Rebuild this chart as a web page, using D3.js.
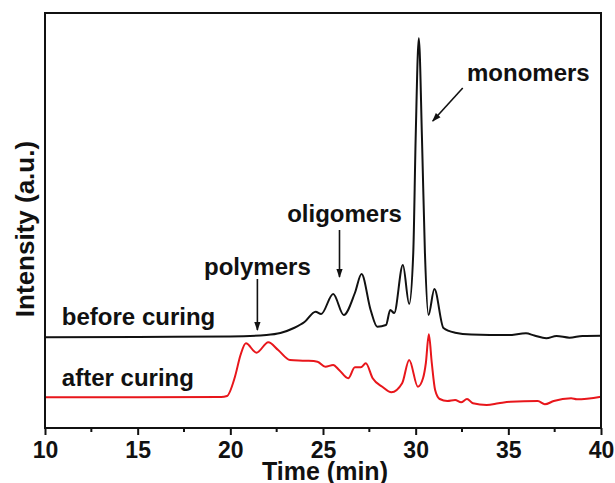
<!DOCTYPE html>
<html>
<head>
<meta charset="utf-8">
<script src="https://cdn.jsdelivr.net/npm/d3@7"></script>
<style>
  body { margin: 0; background: #fff; }
  text { font-family: "Liberation Sans", Arial, sans-serif; font-weight: bold; fill: #111; }
</style>
</head>
<body>
<script>
// GPC traces (time in min, intensity in a.u.)
var beforeTime = [10, 15, 20, 21.95, 22.7, 23.43, 24.0, 24.6, 24.9, 25.55, 26.12, 26.72, 27.08, 27.57, 27.93, 28.4, 28.63, 28.84, 29.31, 29.65, 29.87, 30.0, 30.17, 30.34, 30.5, 30.69, 31.01, 31.5, 32.13, 33, 35, 35.95, 36.4, 37.05, 37.6, 38.3, 39, 40];
var beforeVal  = [90.7, 91, 91.5, 93, 95, 100, 106, 116.3, 114, 134, 113, 135, 154, 118, 101.3, 103, 118, 115, 163, 124, 175, 290, 389.7, 290, 175, 113, 139, 100, 95.3, 93.5, 93, 94.7, 92.5, 89.7, 92, 90.3, 92, 92.3];

var afterTime = [10, 15, 19.5, 19.82, 20.25, 20.55, 20.84, 21.41, 22.05, 22.58, 23.22, 24.07, 24.7, 25.13, 25.55, 25.87, 26.36, 26.72, 27.04, 27.31, 27.68, 28.2, 28.69, 29.27, 29.65, 30.12, 30.4, 30.55, 30.71, 30.87, 31.05, 31.3, 31.71, 32.13, 32.45, 32.77, 33.09, 33.83, 34.47, 35.1, 36.59, 36.97, 37.45, 38.39, 38.7, 40];
var afterVal  = [30.7, 30.7, 31, 32, 51.3, 73, 84.7, 75.3, 85.7, 78, 68, 67.3, 66.3, 61.3, 63, 58, 49.7, 60.7, 60.7, 64.7, 49.7, 41.3, 35.7, 44.7, 68, 41.3, 50, 65, 93.7, 65, 38, 29, 27, 28, 25.7, 29, 24.7, 23, 24.7, 26.3, 27, 23.7, 27, 29.7, 28.7, 31.3];

var xTicks = [10, 15, 20, 25, 30, 35, 40];
var xMinor = [12.5, 17.5, 22.5, 27.5, 32.5, 37.5];

// annotation labels: [text, time, intensity, anchor]
var labels = [
  ["before curing", 10.91, 103, "start"],
  ["after curing", 10.91, 42.3, "start"],
  ["polymers", 21.46, 153, "middle"],
  ["oligomers", 26.16, 206.3, "middle"],
  ["monomers", 36.08, 347, "middle"]
];
// arrows: [t1, v1, t2, v2]
var arrows = [
  [21.46, 149, 21.46, 98],
  [25.89, 198, 25.89, 151],
  [32.54, 340, 30.92, 307]
];

var W = 615, H = 483;
var margin = {top: 13, right: 14, bottom: 55, left: 45};

var svg = d3.select("body").append("svg")
  .attr("width", W)
  .attr("height", H);

var x = d3.scaleLinear().domain([10, 40]).range([margin.left, W - margin.right]);
var y = d3.scaleLinear().domain([0, 415]).range([H - margin.bottom, margin.top]);

var defs = svg.append("defs");
defs.append("marker")
  .attr("id", "arr")
  .attr("viewBox", "0 0 10 10")
  .attr("refX", 9).attr("refY", 5)
  .attr("markerWidth", 9).attr("markerHeight", 9)
  .attr("markerUnits", "userSpaceOnUse")
  .attr("orient", "auto")
  .append("path")
  .attr("d", "M0,1.5 L10,5 L0,8.5 Z")
  .attr("fill", "#111");

var line = d3.line()
  .x(function(d) { return x(d[0]); })
  .y(function(d) { return y(d[1]); })
  .curve(d3.curveMonotoneX);

var before = beforeTime.map(function(t, i) { return [t, beforeVal[i]]; });
var after = afterTime.map(function(t, i) { return [t, afterVal[i]]; });

svg.append("path").datum(before)
  .attr("d", line)
  .attr("fill", "none")
  .attr("stroke", "#111")
  .attr("stroke-width", 2);

svg.append("path").datum(after)
  .attr("d", line)
  .attr("fill", "none")
  .attr("stroke", "#e8161b")
  .attr("stroke-width", 2);

// frame
svg.append("rect")
  .attr("x", x(10)).attr("y", y(415))
  .attr("width", x(40) - x(10))
  .attr("height", y(0) - y(415))
  .attr("fill", "none")
  .attr("stroke", "#111")
  .attr("stroke-width", 2);

// bottom axis
var xAxis = svg.append("g")
  .attr("transform", "translate(0," + y(0) + ")")
  .call(d3.axisBottom(x).tickValues(xTicks).tickSize(7).tickSizeOuter(0).tickFormat(d3.format("d")));
xAxis.select(".domain").remove();
xAxis.selectAll(".tick line").attr("stroke", "#111").attr("stroke-width", 2);
xAxis.selectAll(".tick text")
  .attr("y", 14)
  .attr("dy", "0.71em")
  .style("font-size", "23px")
  .style("font-family", "'Liberation Sans', Arial, sans-serif")
  .style("font-weight", "bold")
  .attr("fill", "#111");

svg.append("g").selectAll("line")
  .data(xMinor)
  .enter().append("line")
  .attr("x1", function(d) { return x(d); })
  .attr("x2", function(d) { return x(d); })
  .attr("y1", y(0))
  .attr("y2", y(0) + 4)
  .attr("stroke", "#111")
  .attr("stroke-width", 2);

// axis titles
svg.append("text")
  .attr("x", (x(10) + x(40)) / 2 + 2)
  .attr("y", 480)
  .attr("text-anchor", "middle")
  .style("font-size", "25px")
  .text("Time (min)");

svg.append("text")
  .attr("transform", "translate(34," + 229 + ") rotate(-90)")
  .attr("text-anchor", "middle")
  .style("font-size", "26px")
  .text("Intensity (a.u.)");

// annotations
svg.append("g").selectAll("text")
  .data(labels)
  .enter().append("text")
  .attr("x", function(d) { return x(d[1]); })
  .attr("y", function(d) { return y(d[2]); })
  .attr("text-anchor", function(d) { return d[3]; })
  .style("font-size", "24px")
  .text(function(d) { return d[0]; });

svg.append("g").selectAll("line")
  .data(arrows)
  .enter().append("line")
  .attr("x1", function(d) { return x(d[0]); })
  .attr("y1", function(d) { return y(d[1]); })
  .attr("x2", function(d) { return x(d[2]); })
  .attr("y2", function(d) { return y(d[3]); })
  .attr("stroke", "#111")
  .attr("stroke-width", 1.6)
  .attr("marker-end", "url(#arr)");
</script>
</body>
</html>
